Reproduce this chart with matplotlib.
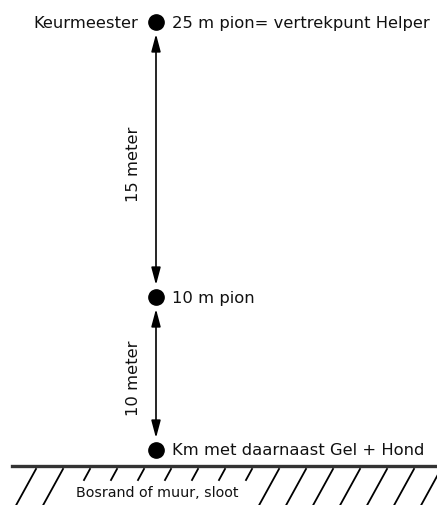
import matplotlib
matplotlib.use("Agg")
import matplotlib.pyplot as plt

plt.rcParams['font.family'] = ['DejaVu Sans']

# pions from top to bottom
pion_labels = ["25 m pion= vertrekpunt Helper", "10 m pion", "Km met daarnaast Gel + Hond"]
left_labels = ["Keurmeester", "", ""]
pion_y = [23, 298, 451]          # schematic position in the drawing (not to scale)
segment_labels = ["15 meter", "10 meter"]
ground_label = "Bosrand of muur, sloot"

fig = plt.figure(figsize=(4.37, 5.06), dpi=100)
ax = fig.add_axes([0, 0, 1, 1])
ax.set_xlim(0, 437)
ax.set_ylim(506, 0)
ax.axis("off")

x0 = 156

# dots + labels
for lab_l, lab_r, y in zip(left_labels, pion_labels, pion_y):
    ax.plot(x0, y, "o", color="black", markersize=11)
    ax.text(x0 + 16, y, lab_r, fontsize=11.8, va="center", ha="left", color="#111111")
    if lab_l:
        ax.text(x0 - 18, y, lab_l, fontsize=11.8, va="center", ha="right", color="#111111")

# double arrows between the dots
for i, lab in enumerate(segment_labels):
    y_top = pion_y[i] + 12
    y_bot = pion_y[i + 1] - 12
    ax.annotate("", xy=(x0, y_bot), xytext=(x0, y_top),
                arrowprops=dict(arrowstyle="<|-|>,head_length=0.75,head_width=0.2",
                                color="black", lw=1.2,
                                mutation_scale=14, shrinkA=0, shrinkB=0))
    ax.text(x0 - 22, (y_top + y_bot) / 2 + 4, lab, fontsize=11.8, rotation=90,
            va="center", ha="center", color="#111111")

# ground line with hatching
ground_y = 467
ax.plot([12, 437], [ground_y, ground_y], color="#333333", lw=2.4)
for k in range(16):
    xt = 36 + 27 * k
    if 2 <= k <= 8:
        ax.plot([xt, xt - 6], [ground_y + 3, ground_y + 14], color="black", lw=1.3)
    else:
        ax.plot([xt, xt - 22], [ground_y + 3, 510], color="black", lw=1.3)
ax.text(157, 493, ground_label, fontsize=10.3, ha="center", va="center", color="#111111")

fig.savefig("out.png", dpi=100)
